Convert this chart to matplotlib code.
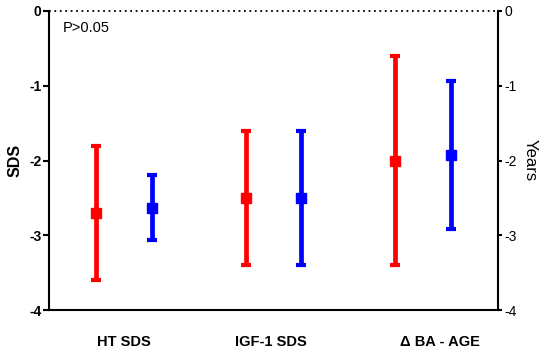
import matplotlib
matplotlib.use("Agg")
import matplotlib.pyplot as plt
from matplotlib.ticker import FixedLocator

# ---- data ----
categories = ["HT SDS", "IGF-1 SDS", "\u0394 BA - AGE"]
red_mean = [-2.7, -2.5, -2.0]
red_low = [-3.6, -3.4, -3.4]
red_high = [-1.8, -1.6, -0.6]
blue_mean = [-2.63, -2.5, -1.92]
blue_low = [-3.07, -3.4, -2.92]
blue_high = [-2.2, -1.6, -0.93]
y_ticks = [0, -1, -2, -3, -4]
annotation = "P>0.05"

plt.rcParams['font.family'] = ['Liberation Sans', 'DejaVu Sans']

fig = plt.figure(figsize=(5.5, 3.54), dpi=100)
ax = fig.add_axes([49/550, 1 - 310/354, (498-49)/550, (310-11)/354])

x = list(range(len(categories)))
off = 0.187
xr = [v - off for v in x]
xb = [v + off for v in x]

def draw(xs, mean, low, high, color):
    yerr = [[m - l for m, l in zip(mean, low)], [h - m for m, h in zip(mean, high)]]
    ax.errorbar(xs, mean, yerr=yerr, fmt='s', color=color, ecolor=color,
                elinewidth=3.4, capsize=3.6, capthick=3.0, markersize=7.5,
                linestyle='none', clip_on=False, zorder=3)

draw(xr, red_mean, red_low, red_high, '#ff0000')
draw(xb, blue_mean, blue_low, blue_high, '#0000ff')

ax.set_xlim(-0.5, 2.5)
ax.set_ylim(-4, 0)
ax.spines['top'].set_visible(False)
for s in ['left', 'right', 'bottom']:
    ax.spines[s].set_linewidth(1.5)
ax.spines['right'].set_visible(False)
ax.axhline(0, color='black', lw=1.3, ls=(0, (1, 2)), clip_on=False, zorder=1)

ax.yaxis.set_major_locator(FixedLocator(y_ticks))
ax.set_yticklabels([str(t) for t in y_ticks], fontweight='bold', fontsize=10)
ax.tick_params(axis='y', direction='out', length=4, width=1.5, pad=1.5)
ax.set_xticks([0, 0.98, 2.11], categories)
ax.tick_params(axis='x', length=0, pad=18)
for lab in ax.get_xticklabels():
    lab.set_fontweight('bold')
    lab.set_fontsize(10.5)
ax.set_ylabel("SDS", fontweight='bold', fontsize=11.5, labelpad=5)

ax2 = ax.twinx()
ax2.set_ylim(-4, 0)
ax2.spines['top'].set_visible(False)
ax2.spines['left'].set_visible(False)
ax2.spines['bottom'].set_visible(False)
ax2.spines['right'].set_linewidth(1.5)
ax2.yaxis.set_major_locator(FixedLocator(y_ticks))
ax2.set_yticklabels([str(t) for t in y_ticks], fontsize=10)
ax2.tick_params(axis='y', direction='out', length=3, width=1.5, pad=1.5)
ax2.set_ylabel("Years", fontsize=12, rotation=270, labelpad=15)

ax.text(0.031, 0.965, annotation, transform=ax.transAxes, fontsize=10.5, va='top', ha='left')

fig.savefig("out.png", dpi=100)
